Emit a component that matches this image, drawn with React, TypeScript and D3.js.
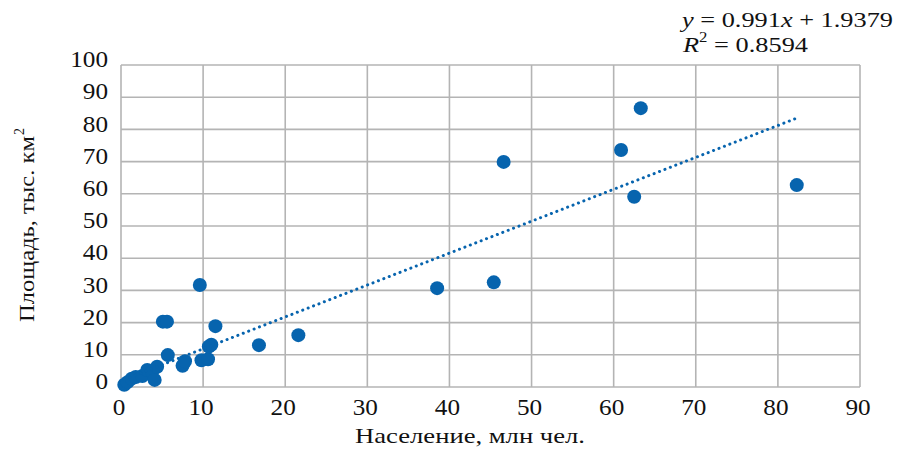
import * as d3 from "d3";

const population = [0.4, 0.8, 1.3, 1.8, 2.6, 3.2, 3.8, 4.1, 4.4, 5.1, 5.6, 5.7, 7.5, 7.8, 9.6, 9.8, 10.6, 10.7, 11.0, 11.5, 16.8, 21.6, 38.5, 45.4, 46.6, 60.9, 62.5, 63.3, 82.3];
const area = [0.7, 1.5, 2.6, 3.1, 3.4, 5.3, 4.7, 2.2, 6.3, 20.3, 20.3, 9.9, 6.6, 8.0, 31.7, 8.3, 8.6, 12.6, 13.1, 18.9, 13.0, 16.1, 30.7, 32.5, 69.9, 73.6, 59.1, 86.6, 62.7];

const xTicks = [0, 10, 20, 30, 40, 50, 60, 70, 80, 90];
const yTicks = [0, 10, 20, 30, 40, 50, 60, 70, 80, 90, 100];

const trendSlope = 0.991;
const trendIntercept = 1.9379;
const rSquared = "0.8594";

const W = 903,
  H = 452;
const L = 121,
  R = 860,
  T = 65,
  B = 387;
const BLUE = "#0764ae";
const GRID = "#b4b4b4";
const FONT = "'Liberation Serif', 'Times New Roman', serif";

export default function App() {
  const x = d3.scaleLinear().domain([0, 90]).range([L, R]);
  const y = d3.scaleLinear().domain([0, 100]).range([B, T]);

  const pts = population.map((p, i) => ({ p, a: area[i] }));
  const [xMin, xMax] = d3.extent(population) as [number, number];
  const trend = d3
    .line<number>()
    .x((v) => x(v))
    .y((v) => y(trendSlope * v + trendIntercept))([xMin, xMax]);

  return (
    <svg
      width={W}
      height={H}
      style={{ position: "absolute", left: 0, top: 0, background: "#fff" }}
      fontFamily={FONT}
    >
      {/* grid */}
      {yTicks.map((t) => (
        <line key={"h" + t} x1={L} x2={R} y1={y(t)} y2={y(t)} stroke={GRID} strokeWidth={1.6} />
      ))}
      {xTicks.map((t) => (
        <line key={"v" + t} x1={x(t)} x2={x(t)} y1={T} y2={B} stroke={GRID} strokeWidth={1.6} />
      ))}

      {/* tick labels */}
      {yTicks.map((t) => (
        <text
          key={"yl" + t}
          x={108}
          y={y(t) - 3}
          textAnchor="end"
          dominantBaseline="middle"
          fontSize={23}
          textLength={String(t).length * 12.6}
          lengthAdjust="spacingAndGlyphs"
          fill="#111"
        >
          {t}
        </text>
      ))}
      {xTicks.map((t) => (
        <text
          key={"xl" + t}
          x={x(t) - 2}
          y={410}
          textAnchor="middle"
          dominantBaseline="middle"
          fontSize={23}
          textLength={String(t).length * 12.6}
          lengthAdjust="spacingAndGlyphs"
          fill="#111"
        >
          {t}
        </text>
      ))}

      {/* axis titles */}
      <text
        x={355}
        y={438}
        dominantBaseline="middle"
        fontSize={22}
        textLength={230}
        lengthAdjust="spacingAndGlyphs"
        fill="#111"
      >
        Население, млн чел.
      </text>
      <g transform="translate(29,322) rotate(-90)">
        <text dominantBaseline="middle" fontSize={22} textLength={186} lengthAdjust="spacingAndGlyphs" fill="#111">
          Площадь, тыс. км
        </text>
        <text x={187} y={-8} dominantBaseline="middle" fontSize={14} fill="#111">
          2
        </text>
      </g>

      {/* points */}
      {pts.map((d, i) => (
        <circle key={i} cx={x(d.p)} cy={y(d.a)} r={7} fill={BLUE} />
      ))}

      {/* trend line */}
      <path d={trend ?? ""} fill="none" stroke={BLUE} strokeWidth={3} strokeDasharray="0.1 5.7" strokeLinecap="round" />

      {/* equation */}
      <text x={682} y={22} dominantBaseline="middle" fontSize={22} textLength={211} lengthAdjust="spacingAndGlyphs" fill="#111">
        <tspan fontStyle="italic">y</tspan> = {trendSlope}
        <tspan fontStyle="italic">x</tspan> + {trendIntercept}
      </text>
      <text x={683} y={47} dominantBaseline="middle" fontSize={22} textLength={125} lengthAdjust="spacingAndGlyphs" fill="#111">
        <tspan fontStyle="italic">R</tspan>
        <tspan dy={-8} fontSize={14}>2</tspan>
        <tspan dy={8}> = {rSquared}</tspan>
      </text>
    </svg>
  );
}
